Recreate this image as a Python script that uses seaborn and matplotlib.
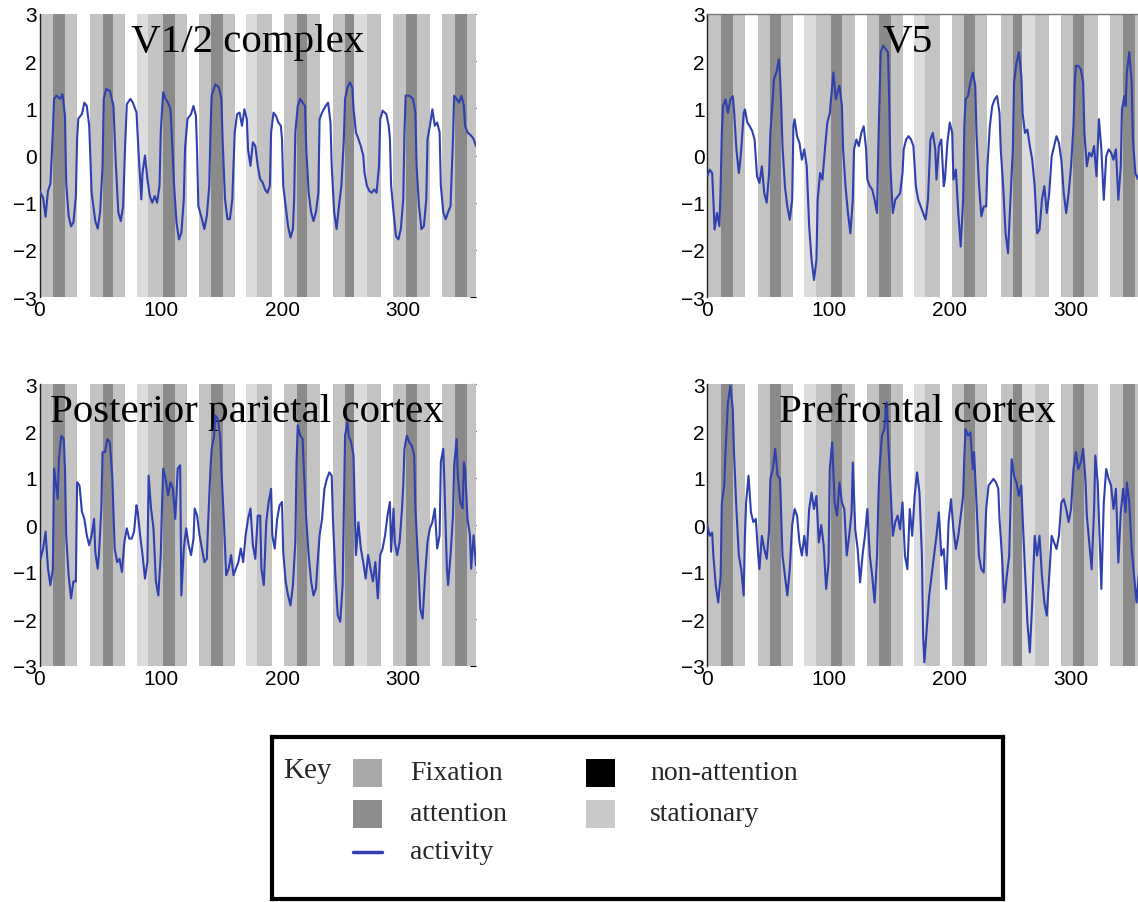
import matplotlib
matplotlib.use("Agg")
import matplotlib.pyplot as plt
import seaborn as sns
from matplotlib.patches import Rectangle


# =========================================================
# DATA
# =========================================================
# block design: scan boundaries and condition of each block
block_edges = [0, 11, 21, 31, 42, 52, 61, 70.5, 80, 89.5, 102, 111.5, 121.5,
               131.5, 141.5, 151.5, 161, 170.5, 179.5, 192, 201.5, 212, 221,
               231, 242, 252, 259.5, 270, 281.5, 291.5, 302, 311, 322, 332,
               343, 352.5, 360]
block_kinds = ["F", "A", "F", "N", "F", "A", "F", "N", "S", "F", "A", "F",
               "N", "F", "A", "F", "N", "S", "F", "N", "F", "A", "F", "N",
               "F", "A", "S", "F", "N", "F", "A", "F", "N", "F", "A", "F"]

x_ticks = [0, 100, 200, 300]
y_ticks = [-3, -2, -1, 0, 1, 2, 3]

region_names = ["V1/2 complex", "V5", "Posterior parietal cortex",
                "Prefrontal cortex"]
title_x = [172, 165, 171, 173]

v12_pts = [
    (0, -0.75), (3, -0.9), (5, -1.3), (7, -0.75), (9, -0.6), (11, 0.5), (12, 1.2),
    (14, 1.27), (17, 1.2), (19, 1.3), (21, 0.84), (22, -0.57), (24, -1.28),
    (26, -1.5), (28, -1.42), (30, -0.86), (31, 0.35), (32, 0.78), (35, 0.88),
    (37, 1.12), (39, 1.05), (41, 0.63), (43, -0.79), (46, -1.39), (48, -1.55),
    (50, -1.2), (52, -0.22), (53, 1.2), (55, 1.41), (58, 1.37), (61, 1.05),
    (63, -0.22), (65, -1.2), (67, -1.39), (69, -1.07), (70.5, 0.13), (72, 1.09),
    (75, 1.2), (77, 1.12), (80, 0.91), (82, -0.08), (84, -0.93), (85, -0.36),
    (87, 0.0), (89, -0.5), (91, -0.86), (93, -1.0), (95, -0.86), (97, -1.0),
    (99, -0.64), (100, 0.49), (102, 1.34), (104, 1.2), (106, 1.12), (108, 0.98),
    (109, 0.49), (111, -0.64), (113, -1.42), (115, -1.78), (117, -1.64),
    (119, -0.93), (120, 0.13), (122, 0.77), (125, 0.88), (127, 1.05), (129, 0.84),
    (130, 0.06), (131, -1.07), (134, -1.35), (136, -1.56), (138, -1.28),
    (140, -0.64), (141, 0.49), (142, 1.27), (145, 1.51), (148, 1.44), (150, 1.2),
    (151, 0.35), (153, -0.93), (155, -1.35), (157, -1.35), (159, -0.93),
    (161, 0.49), (163, 0.88), (165, 0.91), (167, 0.63), (169, 0.98), (171, 0.77),
    (172, 0.13), (174, -0.22), (176, 0.28), (178, 0.2), (180, -0.22), (182, -0.5),
    (184, -0.57), (186, -0.72), (188, -0.79), (190, -0.64), (191, 0.49),
    (193, 0.91), (195, 0.84), (197, 0.7), (199, 0.63), (200, 0.35), (201, -0.64),
    (203, -1.07), (205, -1.5), (207, -1.74), (209, -1.56), (210, -0.93),
    (211, 0.49), (213, 1.05), (215, 1.2), (217, 1.12), (219, 1.05), (220, 0.13),
    (222, -0.79), (224, -1.2), (226, -1.39), (228, -1.2), (230, -0.79),
    (231, 0.77), (233, 0.91), (236, 1.05), (238, 1.12), (240, 0.7), (241, -0.22),
    (243, -1.2), (245, -1.56), (247, -1.07), (249, -0.64), (251, 0.35), (252, 1.2),
    (254, 1.44), (256, 1.55), (258, 1.44), (259, 0.98), (261, 0.49), (263, 0.35),
    (265, 0.2), (267, 0.0), (268, -0.36), (270, -0.64), (272, -0.75), (274, -0.79),
    (276, -0.72), (278, -0.79), (280, -0.22), (281, 0.77), (283, 0.95), (286, 0.88),
    (288, 0.63), (289, 0.35), (290, -0.64), (292, -1.2), (294, -1.71),
    (296, -1.78), (298, -1.56), (300, -0.93), (301, 0.49), (302, 1.27), (305, 1.27),
    (308, 1.2), (310, 0.91), (311, -0.22), (313, -1.07), (315, -1.56), (317, -1.5),
    (319, -0.93), (320, 0.35), (322, 0.63), (324, 0.98), (326, 0.63), (328, 0.7),
    (330, 0.49), (331, -0.64), (333, -1.2), (335, -1.35), (337, -1.2),
    (339, -1.07), (341, 0.35), (342, 1.27), (344, 1.2), (346, 1.12), (348, 1.27),
    (350, 1.05), (351, 0.63), (353, 0.49), (356, 0.42), (358, 0.35), (360, 0.2),
]

v5_pts = [
    (0, -0.44), (2, -0.3), (4, -0.37), (5, -0.94), (6, -1.57), (8, -1.22),
    (10, -1.5), (11, -0.65), (12, 0.48), (13, 1.05), (15, 1.19), (17, 0.9),
    (19, 1.19), (21, 1.26), (22, 0.98), (24, 0.13), (26, -0.37), (27, -0.16),
    (28, 0.13), (30, 0.9), (31, 0.98), (33, 0.7), (35, 0.62), (37, 0.52),
    (39, 0.34), (41, -0.44), (43, -0.58), (45, -0.23), (47, -0.8), (49, -1.0),
    (51, -0.37), (52, 0.48), (54, 1.19), (55, 1.62), (57, 1.76), (59, 2.04),
    (60, 1.69), (61, 1.05), (62, 0.2), (64, -0.65), (66, -1.08), (68, -1.36),
    (70, -0.94), (71, 0.62), (72, 0.77), (74, 0.41), (76, 0.27), (78, -0.09),
    (80, 0.13), (82, -0.23), (84, -1.5), (86, -2.21), (88, -2.64), (90, -2.21),
    (91, -0.94), (93, -0.37), (95, -0.51), (97, 0.13), (99, 0.7), (101, 0.9),
    (103, 1.48), (104, 1.76), (106, 1.19), (108, 1.4), (109, 1.48), (111, 1.05),
    (112, 0.13), (114, -0.65), (116, -1.22), (118, -1.65), (120, -0.94),
    (121, 0.13), (123, 0.34), (125, 0.2), (127, 0.48), (129, 0.62), (131, 0.13),
    (132, -0.51), (134, -0.65), (136, -0.72), (138, -0.94), (140, -1.22),
    (141, 0.13), (142, 1.19), (143, 2.19), (145, 2.33), (147, 2.26), (149, 2.19),
    (150, 1.19), (151, -0.23), (153, -1.22), (155, -0.94), (157, -0.87),
    (159, -0.8), (161, -0.37), (162, 0.13), (164, 0.34), (166, 0.41), (168, 0.34),
    (170, 0.2), (172, -0.65), (174, -0.94), (176, -1.08), (178, -1.22),
    (180, -1.36), (182, -0.94), (184, 0.34), (186, 0.48), (188, 0.13),
    (189, -0.51), (191, 0.2), (193, 0.34), (195, -0.65), (196, -0.51), (198, 0.27),
    (200, 0.7), (202, 0.48), (203, -0.51), (205, -0.3), (207, -1.22), (209, -1.93),
    (211, -0.94), (212, 0.62), (213, 1.19), (215, 1.26), (217, 1.55), (219, 1.76),
    (221, 1.48), (222, 0.48), (224, -0.58), (226, -1.29), (228, -1.08),
    (230, -1.08), (231, -0.23), (233, 0.62), (235, 1.05), (237, 1.19), (239, 1.26),
    (241, 0.9), (242, 0.13), (244, -0.65), (246, -1.65), (248, -2.07),
    (250, -0.94), (252, 0.13), (253, 1.55), (255, 1.97), (257, 2.19), (259, 1.69),
    (260, 0.9), (262, 0.48), (264, 0.55), (266, 0.2), (268, -0.09), (270, -0.65),
    (272, -1.65), (274, -1.57), (276, -0.94), (278, -0.65), (280, -1.22),
    (282, -0.8), (284, -0.02), (286, 0.2), (288, 0.41), (290, 0.27), (292, -0.09),
    (294, -0.8), (296, -1.22), (298, -0.8), (300, -0.23), (302, 0.62), (303, 1.48),
    (304, 1.9), (306, 1.9), (308, 1.83), (310, 1.55), (311, 0.48), (313, -0.23),
    (315, 0.06), (317, -0.02), (319, 0.2), (321, -0.44), (323, 0.77), (325, 0.13),
    (327, -0.94), (329, -0.02), (331, 0.13), (333, 0.06), (335, -0.09), (337, 0.13),
    (339, -0.94), (341, -0.23), (342, 0.98), (344, 1.26), (345, 1.05), (346, 1.76),
    (348, 2.19), (350, 1.55), (351, 0.34), (353, -0.37), (355, -0.5), (358, -0.2),
    (360, 0.0),
]

ppc_pts = [
    (0, -0.36), (1, -0.71), (3, -0.5), (5, -0.14), (7, -0.93), (9, -1.28),
    (11, -0.93), (12, 1.2), (13, 0.98), (15, 0.56), (16, 1.41), (18, 1.9),
    (20, 1.83), (21, 1.2), (22, -0.22), (24, -1.07), (26, -1.56), (28, -1.2),
    (30, -1.2), (31, 0.91), (33, 0.84), (35, 0.28), (37, 0.13), (39, -0.22),
    (41, -0.43), (43, -0.22), (45, 0.13), (46, -0.57), (48, -0.93), (49, -0.64),
    (51, 0.35), (52, 1.55), (54, 1.55), (56, 1.83), (58, 1.76), (60, 1.05),
    (62, -0.5), (64, -0.79), (66, -0.72), (68, -1.0), (70, -0.36), (72, -0.07),
    (74, -0.29), (76, -0.29), (78, -0.14), (80, 0.42), (81, 0.28), (83, -0.22),
    (85, -0.64), (87, -1.14), (89, -0.79), (90, 1.05), (92, 0.35), (94, -0.07),
    (96, -1.2), (98, -1.5), (100, -0.64), (101, 0.35), (102, 1.2), (104, 0.98),
    (106, 0.63), (108, 0.91), (110, 0.77), (112, 0.13), (114, 1.2), (116, 1.27),
    (117, -1.5), (119, -0.5), (121, -0.07), (123, -0.43), (125, -0.64),
    (127, -0.29), (128, 0.35), (130, 0.2), (132, -0.22), (134, -0.5), (136, -0.79),
    (138, -0.72), (139, 0.0), (141, 1.2), (142, 1.62), (144, 1.9), (145, 2.33),
    (147, 2.26), (149, 1.9), (150, 1.2), (152, 0.13), (154, -1.07), (156, -0.93),
    (158, -0.64), (160, -1.07), (162, -0.93), (164, -0.79), (166, -0.5),
    (168, -0.79), (170, -0.22), (172, 0.13), (174, 0.35), (176, -0.43),
    (178, -0.72), (180, 0.2), (182, 0.2), (183, -0.93), (185, -1.28), (187, 0.06),
    (189, 0.49), (191, 0.77), (192, -0.22), (194, -0.5), (196, 0.13), (198, 0.42),
    (200, 0.49), (201, -0.57), (203, -1.2), (205, -1.5), (207, -1.71),
    (209, -1.28), (211, -0.36), (212, 1.34), (213, 2.12), (215, 1.9), (217, 1.83),
    (218, 1.2), (220, 0.13), (222, -0.64), (224, -1.2), (226, -1.5), (228, -1.35),
    (229, -0.93), (231, -0.22), (233, 0.13), (235, 0.77), (237, 0.98), (239, 1.12),
    (241, 1.05), (242, 0.13), (244, -1.07), (246, -1.92), (248, -2.06),
    (250, -1.28), (251, 0.35), (252, 1.9), (254, 2.19), (255, 1.9), (257, 1.76),
    (259, 1.48), (260, 0.35), (261, -0.64), (263, 0.06), (265, -0.5), (267, -0.79),
    (269, -1.14), (271, -0.64), (273, -0.93), (275, -1.2), (277, -0.79),
    (279, -1.56), (281, -0.64), (283, -0.5), (285, -0.22), (287, 0.2), (289, 0.49),
    (290, -0.57), (292, 0.35), (293, -0.36), (295, -0.64), (297, -0.36),
    (299, 0.35), (300, 0.84), (301, 1.62), (303, 1.9), (305, 1.76), (307, 1.69),
    (309, 1.48), (310, 0.35), (312, -0.64), (314, -1.78), (316, -1.99),
    (318, -1.07), (320, -0.36), (322, -0.07), (324, 0.06), (326, 0.35), (328, -0.5),
    (330, -0.22), (331, 1.34), (333, 1.62), (334, 0.84), (336, -0.93), (337, -1.28),
    (339, -0.64), (341, 0.2), (342, 1.27), (344, 1.83), (345, 1.05), (347, 0.49),
    (349, 0.35), (350, 1.34), (351, 1.2), (353, 0.13), (355, -0.22), (356, -0.93),
    (358, -0.22), (360, -0.86),
]

pfc_pts = [
    (0, 0.0), (2, -0.23), (4, -0.16), (5, -0.65), (7, -1.29), (9, -1.65),
    (11, -1.08), (12, 0.48), (14, 0.84), (15, 1.55), (17, 2.6), (19, 2.96),
    (21, 2.47), (22, 1.55), (24, 0.34), (26, -0.65), (28, -0.94), (30, -1.5),
    (31, -0.23), (32, 0.48), (34, 1.05), (36, 0.27), (38, 0.06), (40, 0.13),
    (42, -0.65), (43, -0.94), (45, -0.23), (47, -0.51), (49, -0.72), (51, -0.09),
    (52, 0.98), (54, 1.19), (56, 1.62), (58, 1.05), (60, 0.98), (62, -0.65),
    (64, -1.08), (66, -1.5), (68, -0.94), (70, 0.0), (72, 0.34), (74, 0.2),
    (76, -0.37), (78, -0.65), (80, -0.23), (82, -0.65), (84, 0.34), (86, 0.69),
    (88, 0.34), (90, 0.62), (92, -0.37), (94, 0.0), (96, -0.44), (98, -1.36),
    (100, -0.8), (101, 1.19), (103, 1.76), (105, 0.48), (107, 0.2), (109, 0.9),
    (111, 0.48), (113, 0.34), (115, -0.65), (117, -0.23), (119, 0.27), (120, 1.33),
    (122, -0.09), (124, -0.51), (126, -1.22), (128, -0.65), (130, -0.23),
    (132, 0.34), (134, -0.65), (136, -1.08), (138, -1.65), (140, -0.65),
    (141, 0.48), (142, 1.19), (144, 1.9), (146, 2.04), (148, 2.61), (149, 1.9),
    (151, 0.84), (153, -0.23), (155, 0.06), (157, 0.2), (159, -0.09), (161, 0.48),
    (163, -0.65), (165, -0.94), (167, 0.34), (169, -0.23), (171, 0.62), (173, 1.12),
    (175, 0.69), (177, -0.65), (178, -2.35), (179, -2.92), (181, -2.21),
    (183, -1.5), (185, -1.08), (187, -0.65), (189, -0.23), (191, 0.27),
    (193, -0.65), (195, -0.51), (197, -1.36), (199, 0.06), (201, 0.55),
    (203, -0.09), (205, -0.51), (207, -0.23), (209, 0.2), (211, 0.62), (212, 1.48),
    (213, 2.04), (215, 1.9), (217, 1.97), (219, 1.19), (220, 1.55), (222, 0.48),
    (224, -0.65), (226, -0.94), (228, -1.01), (230, 0.34), (232, 0.84), (234, 0.91),
    (236, 0.98), (238, 0.91), (240, 0.77), (241, 0.13), (243, -0.65), (245, -1.65),
    (247, -1.08), (249, -0.65), (251, 1.4), (253, 1.05), (255, 0.9), (257, 0.62),
    (259, 0.84), (260, 0.2), (262, -0.94), (264, -2.07), (266, -2.71),
    (268, -1.65), (270, -0.23), (272, -0.65), (274, -0.23), (276, -1.08),
    (278, -1.65), (280, -1.93), (282, -1.08), (284, -0.23), (286, -0.37),
    (288, -0.51), (290, -0.23), (292, 0.48), (294, 0.55), (296, 0.34), (298, 0.06),
    (300, 0.34), (302, 1.19), (304, 1.55), (306, 1.19), (308, 1.33), (310, 1.62),
    (312, 0.9), (313, 0.2), (315, -0.37), (317, -0.94), (319, 0.34), (320, 1.48),
    (322, 0.9), (324, -0.65), (325, -1.36), (327, 0.48), (329, 1.19), (331, 0.98),
    (333, 0.84), (335, 0.34), (337, 0.77), (339, -0.8), (341, 0.27), (343, 0.77),
    (345, 0.27), (346, 0.9), (348, 0.48), (350, -0.51), (352, -1.08), (354, -1.65),
    (356, -1.0), (358, -0.5), (360, -0.3),
]

series = [v12_pts, v5_pts, ppc_pts, pfc_pts]

legend_labels = ["Fixation", "attention", "activity", "non-attention", "stationary"]


# =========================================================
# STYLE
# =========================================================
band_colors = {"F": "#c3c3c3", "A": "#8a8a8a", "N": "#ffffff", "S": "#dcdcdc"}
key_colors = {"Fixation": "#a9a9a9", "attention": "#8d8d8d",
              "non-attention": "#000000", "stationary": "#c9c9c9"}
line_color = "#3040ae"
serif = ["Liberation Serif", "DejaVu Serif"]

sns.set_style("white")
plt.rcParams["font.family"] = ["Liberation Sans", "DejaVu Sans"]

fig = plt.figure(figsize=(11.38, 9.03), dpi=100)

W, H = 1138.0, 903.0
panel_boxes = [
    (39.5, 15, 436.5, 283),
    (707.3, 15, 436.5, 283),
    (39.5, 385, 436.5, 282),
    (707.3, 385, 436.5, 282),
]


# =========================================================
# PANELS
# =========================================================
def draw_panel(box, pts, name, tx, top_border=False):
    left, top, w, h = box
    ax = fig.add_axes([left / W, 1 - (top + h) / H, w / W, h / H])
    ax.set_axisbelow(True)

    for x0, x1, kind in zip(block_edges[:-1], block_edges[1:], block_kinds):
        ax.axvspan(x0, x1, color=band_colors[kind], lw=0, zorder=1)

    xs = [p[0] for p in pts]
    ys = [p[1] for p in pts]
    sns.lineplot(x=xs, y=ys, ax=ax, color=line_color, lw=1.5,
                 estimator=None, sort=False, zorder=4)

    ax.text(tx, 2.42, name, ha="center", va="center", fontsize=29.5,
            family=serif, color="black", zorder=3)

    ax.set_xlim(0, 360)
    ax.set_ylim(-3, 3)
    ax.set_xticks(x_ticks)
    ax.set_yticks(y_ticks)
    ax.set_xticklabels([str(t) for t in x_ticks])
    ax.set_yticklabels([str(t).replace("-", "\u2212") for t in y_ticks])
    ax.tick_params(direction="in", length=4, width=0.8, top=True, right=True,
                   labelsize=15, pad=2, colors="black")

    for side in ["top", "right", "bottom"]:
        ax.spines[side].set_visible(False)
    ax.spines["left"].set_color("#222222")
    ax.spines["left"].set_linewidth(1.0)
    if top_border:
        ax.spines["top"].set_visible(True)
        ax.spines["top"].set_color("#777777")
        ax.spines["top"].set_linewidth(1.0)
    return ax


for i, (box, pts, name, tx) in enumerate(zip(panel_boxes, series, region_names, title_x)):
    draw_panel(box, pts, name, tx, top_border=(i == 1))


# =========================================================
# KEY
# =========================================================
kl, kt, kr, kb = 272, 738, 1003, 900
kax = fig.add_axes([kl / W, 1 - kb / H, (kr - kl) / W, (kb - kt) / H])
kax.set_xlim(0, kr - kl)
kax.set_ylim(kb - kt, 0)
kax.set_xticks([])
kax.set_yticks([])
for sp in kax.spines.values():
    sp.set_color("black")
    sp.set_linewidth(3)

kax.text(11, 33, "Key", ha="left", va="center", fontsize=21, family=serif)

rows = [36, 77, 115]
cols = [(81, 138), (314, 378)]
entries = [(0, 0, "Fixation"), (0, 1, "attention"), (0, 2, "activity"),
           (1, 0, "non-attention"), (1, 1, "stationary")]
for c, r, label in entries:
    sx, tx = cols[c]
    cy = rows[r]
    if label == "activity":
        kax.plot([sx, sx + 29], [cy, cy], color=line_color, lw=2.5)
    else:
        kax.add_patch(Rectangle((sx, cy - 14), 29, 28, color=key_colors[label], lw=0))
    kax.text(tx, cy, label, ha="left", va="center", fontsize=20, family=serif)

fig.savefig("out.png", dpi=100)
